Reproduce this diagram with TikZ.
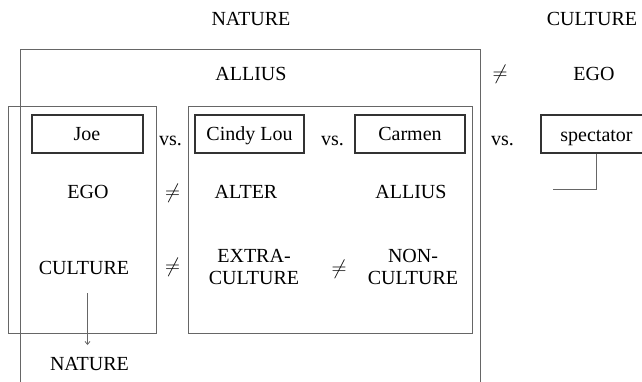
\documentclass[tikz,border=0pt]{standalone}
\usepackage{fontspec}
\setmainfont{Liberation Serif}
\usetikzlibrary{arrows.meta}
\begin{document}
\begin{tikzpicture}[x=1pt,y=-1pt,
  txt/.style={font=\fontsize{20}{22}\selectfont, text=black, inner sep=0pt, align=center},
  bt/.style={txt, anchor=base},
  namebox/.style={draw=black!80, line width=1.3pt, minimum height=38, inner sep=0pt},
  frame/.style={draw=black!60, line width=0.8pt}]
\useasboundingbox (0,0) rectangle (642,382);
% outer nature frame
\draw[frame] (20,382) -- (20,49) -- (480,49) -- (480,382);
% panels
\draw[frame] (8,106) rectangle (156,333);
\draw[frame] (188,106) rectangle (472,333);
% top labels
\node[bt] (nat) at (251,26) {NATURE};
\node[bt] (cult) at (592,26) {CULTURE};
\node[bt] (all1) at (251,81) {ALLIUS};
\node[txt] (ne0) at (500,74) {$\neq$};
\node[bt] (ego2) at (594,81) {EGO};
% name boxes
\node[namebox, minimum width=111] (joe) at (87.5,134) {};
\node[namebox, minimum width=109] (cindy) at (249.5,134) {};
\node[namebox, minimum width=110] (carmen) at (410,134) {};
\node[namebox, minimum width=111] (spec) at (596.5,134) {};
\node[bt] (joet) at (87,141) {Joe};
\node[bt] (cindyt) at (249.5,141) {Cindy Lou};
\node[bt] (carment) at (410,141) {Carmen};
\node[bt] (spect) at (596.5,142) {spectator};
\node[bt] (vs1) at (170.5,146) {vs.};
\node[bt] (vs2) at (332.5,146) {vs.};
\node[bt] (vs3) at (502.5,146) {vs.};
% row 2
\node[bt] (ego) at (88,198) {EGO};
\node[txt] (ne1) at (172.5,193) {$\neq$};
\node[bt] (alter) at (246,198) {ALTER};
\node[bt] (all2) at (411,198) {ALLIUS};
% row 3
\node[bt] (cul) at (84,274) {CULTURE};
\node[txt] (ne2) at (172.5,267) {$\neq$};
\node[txt] (extra) at (254,267) {EXTRA-\\CULTURE};
\node[txt] (ne3) at (339,269) {$\neq$};
\node[txt] (non) at (413,267) {NON-\\CULTURE};
\node[bt] (nat2) at (89.5,370) {NATURE};
% arrow
\coordinate (a1) at (87.5,293);
\coordinate (a2) at (87.5,345);
\draw[draw=black!60, line width=0.8pt, -{Straight Barb[length=3pt,width=5pt]}] (a1) -- (a2);
% spectator connector
\coordinate (c1) at (553,189);
\draw[frame] (spec.south) |- (c1);
\end{tikzpicture}
\end{document}
